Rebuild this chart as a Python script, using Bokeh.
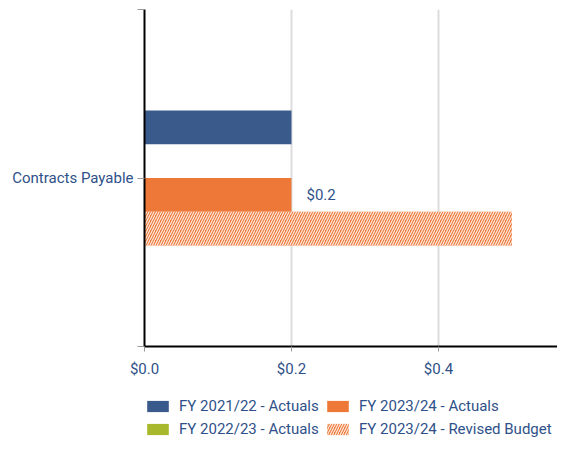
from bokeh.plotting import figure
from bokeh.models import ColumnDataSource, FixedTicker, NumeralTickFormatter, Legend, LegendItem, Range1d
from bokeh.layouts import column
from bokeh.core.properties import value
from bokeh.embed import file_html
from bokeh.resources import INLINE

categories = ["Contracts Payable"]
series_names = ["FY 2021/22 - Actuals", "FY 2022/23 - Actuals", "FY 2023/24 - Actuals", "FY 2023/24 - Revised Budget"]
fy2122_actuals = [0.2]
fy2223_actuals = [0.0]
fy2324_actuals = [0.2]
fy2324_revised = [0.5]
label_texts = ["$0.2"]
x_ticks = [0.0, 0.2, 0.4]

FONT = "Roboto"
TXT = "#2f5189"
colors = ["#3a5a8c", "#a8b82c", "#ed7838", "#ed7838"]
offsets = [0.15, 0.05, -0.05, -0.15]
series_vals = [fy2122_actuals, fy2223_actuals, fy2324_actuals, fy2324_revised]
HATCH = dict(hatch_pattern="/", hatch_color="white", hatch_scale=5, hatch_weight=1.2, hatch_alpha=0.85)

p = figure(width=557, height=386, output_backend="svg", toolbar_location=None,
           x_range=Range1d(0, 0.562), y_range=Range1d(0, 1),
           min_border_left=144, min_border_right=0, min_border_top=9, min_border_bottom=40)
p.outline_line_color = None
p.background_fill_color = "white"

renderers = []
for i, (vals, col, off) in enumerate(zip(series_vals, colors, offsets)):
    ys = [j + 0.5 + off for j in range(len(categories))]
    src = ColumnDataSource(dict(y=ys, right=vals))
    kw = dict(fill_color=col, line_color=None)
    if i == 3:
        kw.update(HATCH)
    r = p.hbar(y="y", left=0, right="right", height=0.1, source=src, **kw)
    renderers.append(r)

# data label on FY 2023/24 actuals
lab_src = ColumnDataSource(dict(x=fy2324_actuals, y=[j + 0.5 + offsets[2] for j in range(len(categories))], t=label_texts))
p.text(x="x", y="y", text="t", source=lab_src, x_offset=15, text_baseline="middle", text_align="left",
       text_font=value(FONT), text_font_size="15px", text_color=TXT)

# x axis
p.xaxis.ticker = FixedTicker(ticks=x_ticks)
p.xaxis.formatter = NumeralTickFormatter(format="$0.0")
p.xaxis.axis_line_color = "black"
p.xaxis.axis_line_width = 2
p.xaxis.major_tick_line_color = "#999999"
p.xaxis.major_tick_out = 5
p.xaxis.major_tick_in = 0
p.xaxis.minor_tick_line_color = None
p.xaxis.major_label_standoff = 8
p.xaxis.major_label_text_font = FONT
p.xaxis.major_label_text_font_size = "15px"
p.xaxis.major_label_text_color = TXT

# y axis
p.yaxis.ticker = FixedTicker(ticks=[0, 0.5, 1])
p.yaxis.major_label_overrides = {0: "", 0.5: categories[0], 1: ""}
p.yaxis.axis_line_color = "black"
p.yaxis.axis_line_width = 2
p.yaxis.major_tick_line_color = "#999999"
p.yaxis.major_tick_out = 7
p.yaxis.major_tick_in = 0
p.yaxis.minor_tick_line_color = None
p.yaxis.major_label_standoff = 4
p.yaxis.major_label_text_font = FONT
p.yaxis.major_label_text_font_size = "15px"
p.yaxis.major_label_text_color = TXT

p.xgrid.ticker = FixedTicker(ticks=x_ticks)
p.xgrid.grid_line_color = "#dcdcdc"
p.xgrid.grid_line_width = 2
p.ygrid.grid_line_color = None

# legend figure (swatches share the series styles; their zero-width bars sit outside the view)
lg = figure(width=557, height=52, output_backend="svg", toolbar_location=None,
            x_range=Range1d(0, 1), y_range=Range1d(0, 1),
            x_axis_location=None, y_axis_location=None,
            min_border_left=144, min_border_right=0, min_border_top=0, min_border_bottom=0)
lg.outline_line_color = None
lg.xgrid.visible = False
lg.ygrid.visible = False
lg_renderers = []
for i, col in enumerate(colors):
    kw = dict(fill_color=col, line_color=None)
    if i == 3:
        kw.update(HATCH)
    lg_renderers.append(lg.hbar(y=[-5], left=[2], right=[2], height=0.1, **kw))

legend = Legend(items=[LegendItem(label=n, renderers=[r]) for n, r in zip(series_names, lg_renderers)],
                ncols=2, location=(0, 0))
legend.glyph_width = 27
legend.glyph_height = 14
legend.label_standoff = 8
legend.label_width = 140
legend.label_text_font = FONT
legend.label_text_font_size = "15px"
legend.label_text_color = TXT
legend.label_height = 18
legend.spacing = 5
legend.padding = 0
legend.margin = 0
legend.border_line_color = None
legend.background_fill_alpha = 0
lg.add_layout(legend, "center")

layout = column(p, lg, spacing=0)
open("out.html", "w").write(file_html(layout, INLINE))
